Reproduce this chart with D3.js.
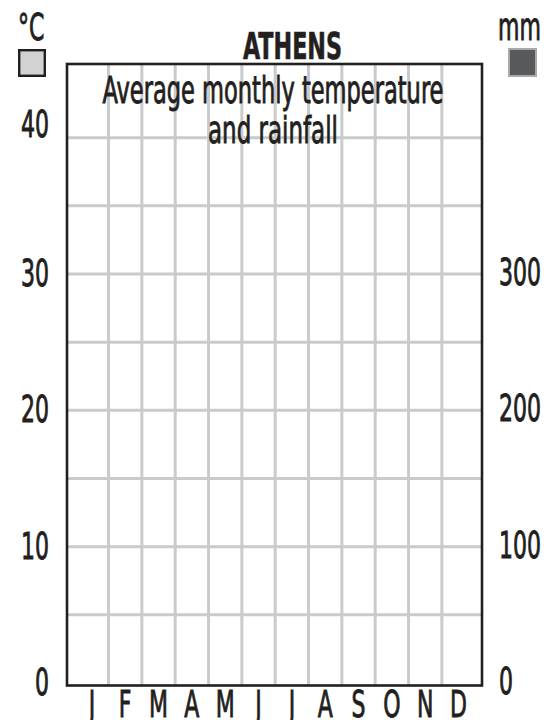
<!DOCTYPE html>
<html>
<head>
<meta charset="utf-8">
<script src="https://cdn.jsdelivr.net/npm/d3@7"></script>
<style>
  html, body { margin: 0; padding: 0; background: #fff; }
  svg { display: block; }
  text { fill: #231f20; stroke: #231f20; stroke-width: 0.9px; font-family: "Liberation Sans Narrow", "DejaVu Sans Condensed", "Liberation Sans", sans-serif; }
  text.bold { stroke-width: 0.6px; }
</style>
</head>
<body>
<div id="chart"></div>
<script>
// chart data
const months = ['J', 'F', 'M', 'A', 'M', 'J', 'J', 'A', 'S', 'O', 'N', 'D'];
const tempTicks = [0, 10, 20, 30, 40];
const rainTicks = [0, 100, 200, 300];
const gridTicks = [5, 10, 15, 20, 25, 30, 35, 40];
const title = 'ATHENS';
const subtitle = ['Average monthly temperature', 'and rainfall'];
const tempUnit = '°C';
const rainUnit = 'mm';

const width = 557, height = 720;
const ink = '#231f20';
const gridColor = '#c9cacc';

const svg = d3.select('#chart').append('svg')
  .attr('width', width)
  .attr('height', height);

// plot frame
const frame = { left: 67, right: 482, top: 64, bottom: 685.5 };

// scales
const x = d3.scaleBand()
  .domain(d3.range(months.length))
  .range([75.2, 475.2]);

const yTemp = d3.scaleLinear()
  .domain([0, 40])
  .range([683, 137.7]);

const yRain = d3.scaleLinear()
  .domain([0, 400])
  .range([683, 137.7]);

// condensed look: squeeze glyphs horizontally so a digit is ~14px wide
const probe = svg.append('text').attr('font-size', 38).text('0');
const digitW = probe.node().getComputedTextLength();
probe.remove();
const squeeze = 14 / digitW;

function condense(sel) {
  sel.attr('x', 0).attr('transform', `scale(${squeeze},1)`);
}

function stretchTo(sel, w) {
  const natural = sel.node().getComputedTextLength();
  sel.attr('transform', `scale(${w / natural},1)`);
}

// horizontal grid lines
svg.append('g')
  .selectAll('line')
  .data(gridTicks)
  .enter()
  .append('line')
  .attr('x1', frame.left)
  .attr('x2', frame.right)
  .attr('y1', d => yTemp(d))
  .attr('y2', d => yTemp(d))
  .attr('stroke', gridColor)
  .attr('stroke-width', 3);

// vertical grid lines between months
svg.append('g')
  .selectAll('line')
  .data(d3.range(1, months.length))
  .enter()
  .append('line')
  .attr('x1', d => x(d))
  .attr('x2', d => x(d))
  .attr('y1', frame.top)
  .attr('y2', frame.bottom)
  .attr('stroke', gridColor)
  .attr('stroke-width', 3);

// frame
svg.append('rect')
  .attr('x', frame.left)
  .attr('y', frame.top)
  .attr('width', frame.right - frame.left)
  .attr('height', frame.bottom - frame.top)
  .attr('fill', 'none')
  .attr('stroke', ink)
  .attr('stroke-width', 2.6);

// left axis (temperature)
const leftAxis = svg.append('g')
  .attr('transform', 'translate(49, 0)')
  .call(d3.axisLeft(yTemp).tickValues(tempTicks).tickSize(0).tickPadding(0));
leftAxis.select('.domain').remove();
leftAxis.selectAll('text')
  .attr('font-size', 38)
  .attr('fill', ink)
  .attr('dy', d => d === 40 ? '-0.02em' : '0.3em')
  .call(condense);

// right axis (rainfall)
const rightAxis = svg.append('g')
  .attr('transform', 'translate(499, 0)')
  .call(d3.axisRight(yRain).tickValues(rainTicks).tickSize(0).tickPadding(0));
rightAxis.select('.domain').remove();
rightAxis.selectAll('text')
  .attr('font-size', 38)
  .attr('fill', ink)
  .attr('dy', '0.28em')
  .call(condense);

// month labels
const bottomAxis = svg.append('g')
  .attr('transform', 'translate(0, 717)')
  .call(d3.axisBottom(x).tickFormat(i => months[i]).tickSize(0).tickPadding(0));
bottomAxis.select('.domain').remove();
bottomAxis.selectAll('text')
  .attr('font-size', 38)
  .attr('fill', ink)
  .attr('y', 0)
  .attr('dy', 0)
  .call(condense);
[leftAxis, rightAxis, bottomAxis].forEach(g => g.attr('font-family', null).attr('font-size', null));

// title
svg.append('g')
  .attr('transform', 'translate(292.5, 59)')
  .append('text')
  .attr('class', 'bold')
  .attr('text-anchor', 'middle')
  .attr('font-size', 37)
  .attr('font-weight', 'bold')
  .text(title)
  .call(stretchTo, 99);

// subtitle
const subWidths = [341, 130];
subtitle.forEach((line, i) => {
  svg.append('g')
    .attr('transform', `translate(273, ${103 + i * 40})`)
    .append('text')
    .attr('text-anchor', 'middle')
    .attr('font-size', 38)
    .text(line)
    .call(stretchTo, subWidths[i]);
});

// unit legends
svg.append('g')
  .attr('transform', 'translate(18, 40)')
  .append('text')
  .attr('font-size', 38)
  .text(tempUnit)
  .call(condense);

svg.append('rect')
  .attr('x', 19.2)
  .attr('y', 50.2)
  .attr('width', 25.6)
  .attr('height', 25.6)
  .attr('fill', '#d1d2d4')
  .attr('stroke', ink)
  .attr('stroke-width', 2.4);

svg.append('g')
  .attr('transform', 'translate(498, 40)')
  .append('text')
  .attr('font-size', 38)
  .text(rainUnit)
  .call(condense);

svg.append('rect')
  .attr('x', 509)
  .attr('y', 49)
  .attr('width', 27)
  .attr('height', 27)
  .attr('fill', '#58595b')
  .attr('stroke', '#a7a9ac')
  .attr('stroke-width', 2);
</script>
</body>
</html>
